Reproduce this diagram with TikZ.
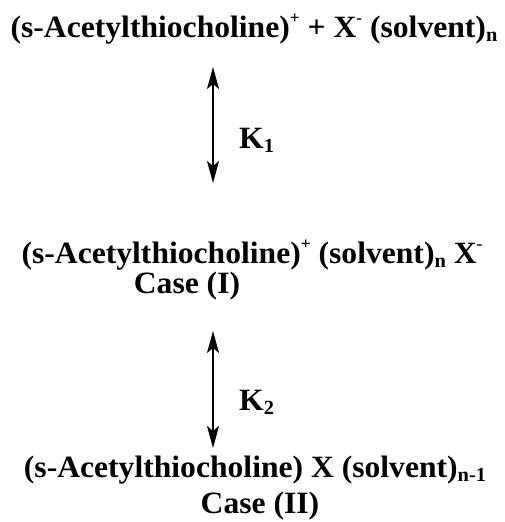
\documentclass[tikz,border=0pt]{standalone}
\usepackage{fontspec}
\setmainfont[FakeStretch=1.02]{Liberation Serif}
\usetikzlibrary{arrows.meta}
\newcommand{\up}[1]{\raisebox{0.42em}{\fontsize{17}{17}\selectfont #1}}
\newcommand{\dn}[1]{\raisebox{-0.16em}{\fontsize{20}{20}\selectfont #1}}
\begin{document}
\begin{tikzpicture}[x=1pt,y=-1pt,
  chem/.style={inner sep=0pt,anchor=base,font=\fontsize{31}{36}\selectfont\bfseries},
  eqarrow/.style={line width=2.2pt,{Stealth[length=22pt,width=12pt,inset=5pt]}-{Stealth[length=22pt,width=12pt,inset=5pt]}}]
  \useasboundingbox (0,0) rectangle (505,522);
  % species and equilibrium constants
  \node[chem] (free) at (254,37) {(s-Acetylthiocholine)\up{+} + X\up{-} (solvent)\dn{n}};
  \node[chem,anchor=base west] (k1) at (239,148) {K\dn{1}};
  \node[chem] (sep) at (252,263) {(s-Acetylthiocholine)\up{+} (solvent)\dn{n} X\up{-}};
  \node[chem] (case1) at (187,293) {Case (I)};
  \node[chem,anchor=base west] (k2) at (239,410) {K\dn{2}};
  \node[chem] (pair) at (255,477) {(s-Acetylthiocholine) X (solvent)\dn{n-1}};
  \node[chem] (case2) at (260,513) {Case (II)};
  % arrow ends
  \coordinate (a1t) at (213,67);
  \coordinate (a1b) at (213,183);
  \coordinate (a2t) at (213,331);
  \coordinate (a2b) at (213,448);
  \draw[eqarrow] (a1t) -- (a1b);
  \draw[eqarrow] (a2t) -- (a2b);
\end{tikzpicture}
\end{document}
